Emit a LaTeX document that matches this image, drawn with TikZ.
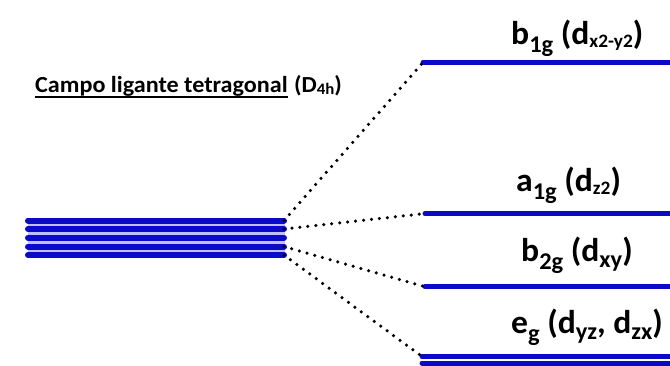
\documentclass[tikz,border=0pt]{standalone}
\usepackage{fontspec}
\setmainfont{Carlito}
\newfontfamily\widefont[FakeStretch=1.05]{Carlito}
\newfontfamily\lblfont[FakeStretch=1.02]{Carlito}
\definecolor{lvl}{RGB}{10,10,200}
\newcommand\lsub[3][0.3em]{\raisebox{-#1}{\fontsize{#2}{#2}\selectfont #3}}
\newcommand\uline[1]{\tikz[baseline=(t.base)]{\node[inner sep=0pt] (t) {#1};\draw[line width=1.6pt] ([yshift=-5pt]t.base west) -- ([yshift=-5pt]t.base east);}}
\tikzset{
  level/.style={line width=5pt, draw=lvl, line cap=round},
  stack/.style={line width=6pt, draw=lvl, line cap=round},
  dots/.style={line width=3.5pt, line cap=round, dash pattern=on 0pt off 8pt, draw=black},
  lbl/.style={anchor=base west, inner sep=0pt, font=\lblfont\bfseries\fontsize{33}{33}\selectfont},
}
\begin{document}
\begin{tikzpicture}[x=1pt,y=-1pt]
\useasboundingbox (0,0) rectangle (670,365);
% left degenerate stack
\fill[blue!25] (28,220) rectangle (285,255);
\foreach \yy [count=\i] in {220.5,229,237.7,246.5,255}{
  \coordinate (s\i w) at (28,\yy);
  \coordinate (s\i e) at (284,\yy);
  \draw[stack] (s\i w) -- (s\i e);
}
% right levels
\coordinate (b1w) at (423,62.5); \coordinate (b1e) at (673,62.5);
\coordinate (a1w) at (425,213.5); \coordinate (a1e) at (673,213.5);
\coordinate (b2w) at (425,286.7); \coordinate (b2e) at (673,286.7);
\coordinate (e1w) at (422,356.5); \coordinate (e1e) at (673,356.5);
\coordinate (e2w) at (422,363); \coordinate (e2e) at (673,363);
\draw[level] (b1w) -- (b1e);
\draw[level] (a1w) -- (a1e);
\draw[level] (b2w) -- (b2e);
\draw[level] (e1w) -- (e1e);
\draw[level] (e2w) -- (e2e);
% dotted connectors
\draw[dots] (s1e) -- (b1w);
\draw[dots] (s2e) -- (a1w);
\draw[dots] (s4e) -- (b2w);
\draw[dots] (s5e) -- (e1w);
% labels
\node[lbl] (lb1) at (511,44) {b\lsub[0.27em]{24}{1g} (d\lsub[0.12em]{19}{x2-y2})};
\node[lbl] (la1) at (516,191) {a\lsub[0.27em]{24}{1g} (d\lsub[0.12em]{19}{z2})};
\node[lbl] (lb2) at (521,261) {b\lsub[0.27em]{24}{2g} (d\lsub[0.2em]{24}{xy})};
\node[lbl] (le) at (511,333) {e\lsub[0.27em]{24}{g} (d\lsub[0.2em]{24}{yz}, d\lsub[0.2em]{24}{zx})};
\node[anchor=base west, inner sep=0pt, font=\widefont\bfseries\fontsize{23}{23}\selectfont] (title) at (34,92)
  {\uline{Campo ligante tetragonal} (D\lsub[0.12em]{16}{4h})};
\end{tikzpicture}
\end{document}
